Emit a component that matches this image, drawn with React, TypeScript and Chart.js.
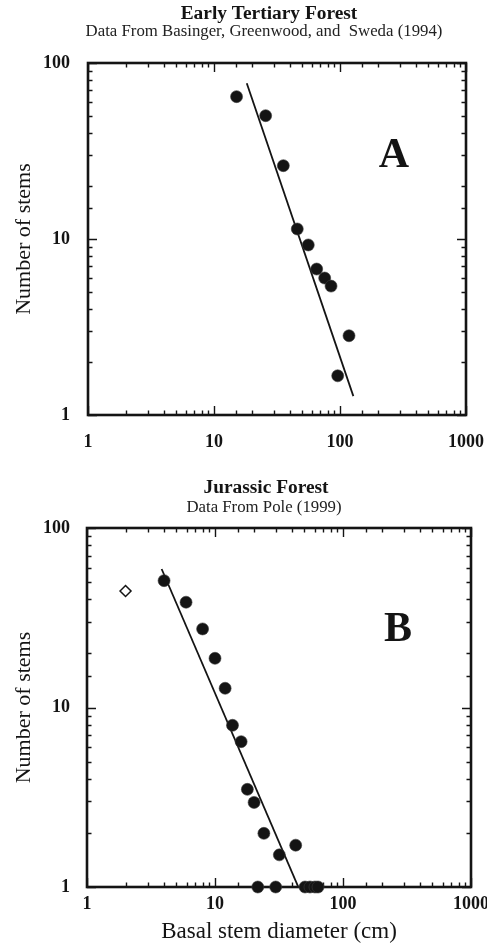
import React, { useEffect, useRef } from 'react';
import { Chart, registerables } from 'chart.js';

Chart.register(...registerables);

const SERIF = '"Liberation Serif", "Times New Roman", serif';
const INK = '#141414';

// ---- axis ticks ----
const xDecades = [1, 10, 100, 1000];
const yDecades = [1, 10, 100];
const yAxisTitle = 'Number of stems';
const xAxisTitle = 'Basal stem diameter (cm)';

// ---- Panel A: Early Tertiary Forest ----
const titleA = 'Early Tertiary Forest';
const subtitleA = 'Data From Basinger, Greenwood, and  Sweda (1994)';
const diameterA = [15.1, 25.7, 35.5, 45.8, 56, 65.3, 75.6, 84.9, 117.9, 95.9];
const stemsA = [64.4, 50.2, 26.1, 11.4, 9.25, 6.75, 6.0, 5.4, 2.82, 1.67];
const fitDiameterA = [18.2, 127.6];
const fitStemsA = [76.7, 1.28];

// ---- Panel B: Jurassic Forest ----
const titleB = 'Jurassic Forest';
const subtitleB = 'Data From Pole (1999)';
const diameterB = [4.0, 5.94, 8.0, 10, 12, 13.7, 16, 17.9, 20.2, 24.1, 31.8, 42.7, 21.6, 29.8, 50.5, 55.2, 60.4, 63.8];
const stemsB = [50.9, 38.6, 27.4, 18.8, 12.8, 7.96, 6.45, 3.5, 2.96, 1.99, 1.51, 1.71, 1, 1, 1, 1, 1, 1];
const outlierDiameterB = [2.0];
const outlierStemsB = [44.6];
const fitDiameterB = [3.83, 45.3];
const fitStemsB = [59.1, 0.98];

const isDecade = (v: number) => {
  const l = Math.log10(v);
  return Math.abs(l - Math.round(l)) < 1e-6;
};

const toPoints = (xs: number[], ys: number[]) => xs.map((x, i) => ({ x, y: ys[i] }));

const framePlugin = {
  id: 'frame',
  beforeDatasetsDraw(chart: any, _args: any, opts: any) {
    const { ctx, chartArea } = chart;
    const { left, right, top, bottom } = chartArea;
    const xs = chart.scales.x;
    const ys = chart.scales.y;
    ctx.save();
    ctx.strokeStyle = INK;
    ctx.lineCap = 'butt';
    ctx.lineWidth = 1.4;
    ctx.beginPath();
    for (const t of xs.ticks) {
      const px = Math.round(xs.getPixelForValue(t.value)) + 0.5;
      const len = isDecade(t.value) ? 9 : 4.5;
      ctx.moveTo(px, bottom);
      ctx.lineTo(px, bottom - len);
      ctx.moveTo(px, top);
      ctx.lineTo(px, top + len);
    }
    for (const t of ys.ticks) {
      const py = Math.round(ys.getPixelForValue(t.value)) + 0.5;
      const len = isDecade(t.value) ? 9 : 4.5;
      ctx.moveTo(left, py);
      ctx.lineTo(left + len, py);
      ctx.moveTo(right, py);
      ctx.lineTo(right - len, py);
    }
    ctx.stroke();
    ctx.lineWidth = 2.6;
    ctx.strokeRect(left, top, right - left, bottom - top);
    if (opts && opts.letter) {
      ctx.fillStyle = INK;
      ctx.font = `bold 42px ${SERIF}`;
      ctx.textAlign = 'center';
      ctx.textBaseline = 'middle';
      ctx.fillText(opts.letter, xs.getPixelForValue(opts.letterX), ys.getPixelForValue(opts.letterY));
    }
    ctx.restore();
  },
  afterDraw(chart: any, _args: any, opts: any) {
    const { ctx } = chart;
    ctx.save();
    ctx.textAlign = 'center';
    ctx.textBaseline = 'middle';
    ctx.fillStyle = INK;
    ctx.font = `bold 19.4px ${SERIF}`;
    ctx.fillText(opts.title, opts.titleX, opts.titleY);
    ctx.fillStyle = '#222';
    ctx.font = `16.8px ${SERIF}`;
    ctx.fillText(opts.subtitle, opts.subtitleX, opts.subtitleY);
    ctx.restore();
  },
};

type PanelCfg = {
  top: number;
  height: number;
  title: string;
  subtitle: string;
  titleX: number;
  titleY: number;
  subtitleX: number;
  subtitleY: number;
  padTop: number;
  xAxisHeight: number;
  yAxisWidth: number;
  padRight: number;
  xTickPad: number;
  yTickPad: number;
  showXTitle: boolean;
  letter: string;
  letterX: number;
  letterY: number;
  diameter: number[];
  stems: number[];
  fitDiameter: number[];
  fitStems: number[];
  outDiameter?: number[];
  outStems?: number[];
};

function buildConfig(c: PanelCfg): any {
  const datasets: any[] = [
    {
      label: 'stems',
      data: toPoints(c.diameter, c.stems),
      backgroundColor: INK,
      borderColor: '#3a3a3a',
      borderWidth: 0.6,
      pointRadius: 6,
      pointHoverRadius: 6,
      clip: false,
    },
  ];
  if (c.outDiameter && c.outStems) {
    datasets.push({
      label: 'outlier',
      data: toPoints(c.outDiameter, c.outStems),
      pointStyle: 'rectRot',
      backgroundColor: '#ffffff',
      borderColor: INK,
      borderWidth: 1.5,
      pointRadius: 5.5,
      clip: false,
    });
  }
  datasets.push({
    label: 'fit',
    data: toPoints(c.fitDiameter, c.fitStems),
    showLine: true,
    borderColor: INK,
    borderWidth: 1.8,
    pointRadius: 0,
    fill: false,
    tension: 0,
  });

  return {
    type: 'scatter',
    data: { datasets },
    options: {
      responsive: false,
      animation: false,
      devicePixelRatio: 1,
      events: [],
      layout: { padding: { left: 0, right: c.padRight, top: c.padTop, bottom: 0 } },
      plugins: {
        legend: { display: false },
        tooltip: { enabled: false },
        title: { display: false },
        subtitle: { display: false },
        frame: {
          letter: c.letter,
          letterX: c.letterX,
          letterY: c.letterY,
          title: c.title,
          subtitle: c.subtitle,
          titleX: c.titleX,
          titleY: c.titleY,
          subtitleX: c.subtitleX,
          subtitleY: c.subtitleY,
        },
      },
      scales: {
        x: {
          type: 'logarithmic',
          position: 'bottom',
          min: xDecades[0],
          max: xDecades[xDecades.length - 1],
          grid: { display: false, drawTicks: false },
          border: { display: false },
          ticks: {
            autoSkip: false,
            maxRotation: 0,
            minRotation: 0,
            padding: c.xTickPad,
            color: INK,
            font: { family: SERIF, size: 18, weight: 'bold' },
            callback: (v: number) => (isDecade(v) && xDecades.includes(Math.round(v)) ? String(Math.round(v)) : ''),
          },
          title: c.showXTitle
            ? {
                display: true,
                text: xAxisTitle,
                color: INK,
                font: { family: SERIF, size: 23, lineHeight: 1 },
                padding: { top: 0, bottom: 1 },
              }
            : { display: false },
          afterFit: (s: any) => {
            s.height = c.xAxisHeight;
            s.paddingLeft = 0;
            s.paddingRight = 0;
          },
        },
        y: {
          type: 'logarithmic',
          position: 'left',
          min: yDecades[0],
          max: yDecades[yDecades.length - 1],
          grid: { display: false, drawTicks: false },
          border: { display: false },
          ticks: {
            autoSkip: false,
            padding: c.yTickPad,
            color: INK,
            font: { family: SERIF, size: 18, weight: 'bold' },
            callback: (v: number) => (isDecade(v) && yDecades.includes(Math.round(v)) ? String(Math.round(v)) : ''),
          },
          title: {
            display: true,
            text: yAxisTitle,
            color: INK,
            font: { family: SERIF, size: 22, lineHeight: 1 },
            padding: { top: 13, bottom: 0 },
          },
          afterFit: (s: any) => {
            s.width = c.yAxisWidth;
            s.paddingTop = 0;
            s.paddingBottom = 0;
          },
        },
      },
    },
    plugins: [framePlugin],
  };
}

const panelA: PanelCfg = {
  top: 0,
  height: 450,
  title: titleA,
  subtitle: subtitleA,
  titleX: 269,
  titleY: 14.3,
  subtitleX: 264,
  subtitleY: 31.5,
  padTop: 63,
  xAxisHeight: 35,
  yAxisWidth: 88,
  padRight: 21,
  xTickPad: 17,
  yTickPad: 18,
  showXTitle: false,
  letter: 'A',
  letterX: 268,
  letterY: 29.5,
  diameter: diameterA,
  stems: stemsA,
  fitDiameter: fitDiameterA,
  fitStems: fitStemsA,
};

const panelB: PanelCfg = {
  top: 470,
  height: 474,
  title: titleB,
  subtitle: subtitleB,
  titleX: 266,
  titleY: 17.5,
  subtitleX: 264,
  subtitleY: 38,
  padTop: 58,
  xAxisHeight: 57,
  yAxisWidth: 87,
  padRight: 16,
  xTickPad: 7,
  yTickPad: 17,
  showXTitle: true,
  letter: 'B',
  letterX: 269,
  letterY: 26.8,
  diameter: diameterB,
  stems: stemsB,
  fitDiameter: fitDiameterB,
  fitStems: fitStemsB,
  outDiameter: outlierDiameterB,
  outStems: outlierStemsB,
};

function Panel({ cfg }: { cfg: PanelCfg }) {
  const ref = useRef<HTMLCanvasElement | null>(null);
  useEffect(() => {
    if (!ref.current) return;
    const chart = new Chart(ref.current, buildConfig(cfg));
    return () => chart.destroy();
  }, [cfg]);
  return (
    <canvas
      ref={ref}
      width={487}
      height={cfg.height}
      style={{ position: 'absolute', left: 0, top: cfg.top, width: 487, height: cfg.height, display: 'block' }}
    />
  );
}

export default function App() {
  return (
    <div
      style={{
        position: 'fixed',
        left: 0,
        top: 0,
        width: 487,
        height: 944,
        background: '#ffffff',
        overflow: 'hidden',
      }}
    >
      <Panel cfg={panelA} />
      <Panel cfg={panelB} />
    </div>
  );
}
